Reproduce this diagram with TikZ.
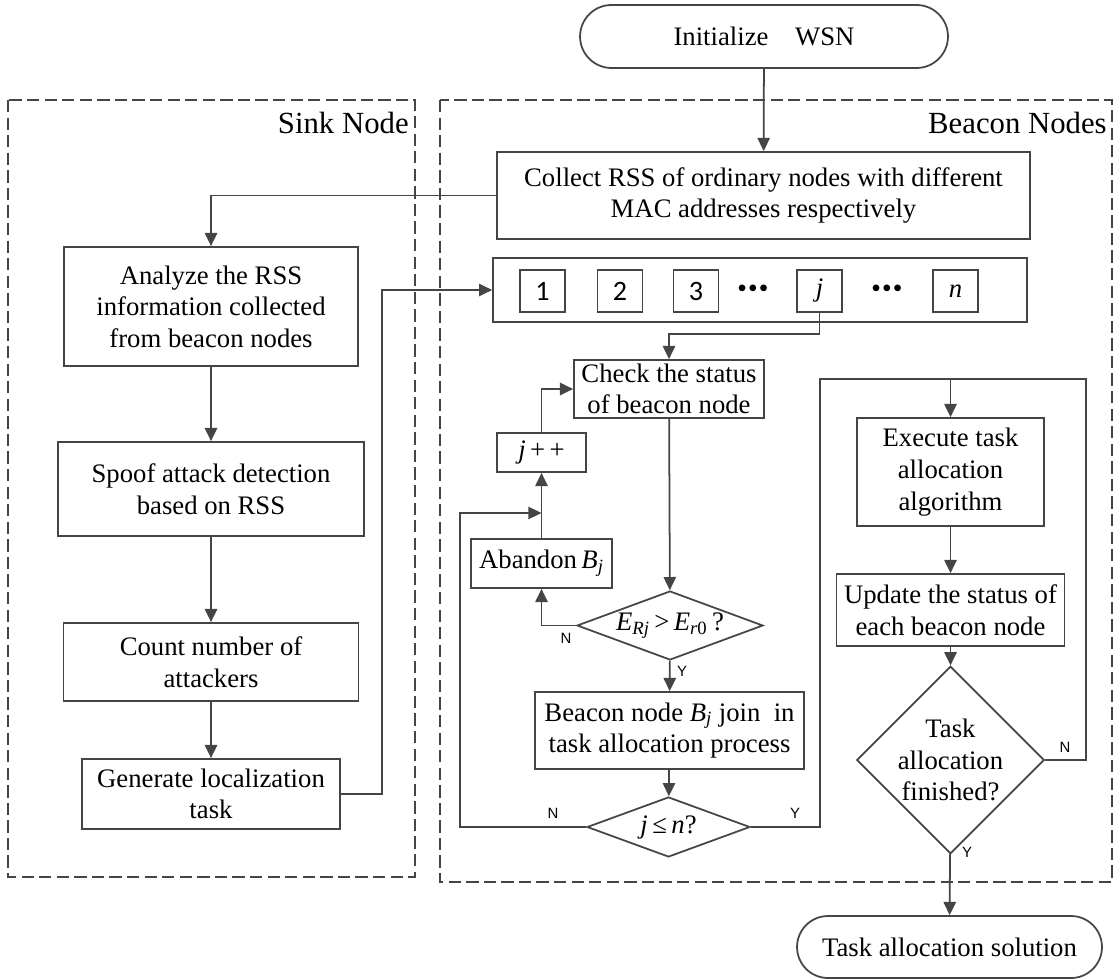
\documentclass[tikz,border=0pt]{standalone}
\usepackage{fontspec}
\setmainfont{Liberation Serif}
\newfontfamily\ynfont{Liberation Sans}
\newfontfamily\digitfont{Carlito}
\usetikzlibrary{shapes.geometric, shapes.misc, arrows.meta}

\definecolor{linec}{HTML}{454545}
\newcommand{\mainsize}{\fontsize{15.2pt}{18pt}\selectfont}

\tikzset{
  line/.style={draw=linec, line width=1pt},
  arr/.style={line, -{Triangle[length=7.5pt,width=7pt]}},
  zone/.style={draw=linec, line width=0.9pt, dash pattern=on 7pt off 3pt},
  title/.style={font=\fontsize{17.5pt}{20pt}\selectfont, inner sep=0pt},
  box/.style={draw=linec, line width=1pt, align=center, inner sep=0pt, font=\mainsize},
  term/.style={box, rounded rectangle},
  cond/.style={box, diamond, aspect=2.7},
  cell/.style={draw=linec, line width=1pt, inner sep=0pt, minimum width=0.9cm, minimum height=0.84cm},
  dotsbox/.style={inner sep=0pt, font=\ynfont\fontsize{14pt}{14pt}\selectfont},
  yn/.style={font=\ynfont\fontsize{8.5pt}{9pt}\selectfont, inner sep=0pt}
}

\begin{document}
\begin{tikzpicture}[x=0.02cm, y=-0.02cm]
    \useasboundingbox (0,0) rectangle (1114,979);

    % 虚线框
    \draw[zone] (8,100) rectangle (415,877);
    \draw[zone] (440,100) rectangle (1112,882);
    \node[title, anchor=east] (sinklbl) at (409,123) {Sink Node};
    \node[title, anchor=east] (beaconlbl) at (1107,123) {Beacon Nodes};

    % 开始和结束
    \node[term, minimum width=7.36cm, minimum height=1.26cm] (init) at (764,36.5) {Initialize\quad WSN};
    \node[term, minimum width=6.1cm, minimum height=1.24cm] (final) at (949.5,947) {Task allocation solution};

    % Sink Node
    \node[box, minimum width=5.88cm, minimum height=2.38cm] (analyze) at (211,306.5) {Analyze the RSS\\information collected\\from beacon nodes};
    \node[box, minimum width=6.12cm, minimum height=1.88cm] (spoof) at (211,489) {Spoof attack detection\\based on RSS};
    \node[box, minimum width=5.9cm, minimum height=1.56cm] (count) at (211,662) {Count number of\\attackers};
    \node[box, minimum width=5.16cm, minimum height=1.4cm] (generate) at (211,794) {Generate localization\\task};

    % Beacon Nodes
    \node[box, minimum width=10.66cm, minimum height=1.74cm] (collect) at (763.5,195.5) {Collect RSS of ordinary nodes with different\\MAC addresses respectively};
    \node[box, minimum width=10.68cm, minimum height=1.28cm] (nums) at (760,290) {};
    \node[cell, font=\digitfont\fontsize{16pt}{16pt}\selectfont] (b1) at (542.5,291) {1};
    \node[cell, font=\digitfont\fontsize{16pt}{16pt}\selectfont] (b2) at (620,291) {2};
    \node[cell, font=\digitfont\fontsize{16pt}{16pt}\selectfont] (b3) at (696,291) {3};
    \node[dotsbox] (dots1) at (753,291) {•\kern1.2pt•\kern1.2pt•};
    \node[cell, font=\mainsize] (bj) at (819.5,291) {\textit{j}};
    \node[dotsbox] (dots2) at (887,291) {•\kern1.2pt•\kern1.2pt•};
    \node[cell, font=\mainsize] (bn) at (955.5,291) {\textit{n}};

    \node[box, minimum width=3.8cm, minimum height=1.16cm] (check) at (669,389) {Check the status\\of beacon node};
    \node[box, minimum width=1.78cm, minimum height=0.78cm] (jpp) at (541.5,452.5) {\textit{j}\,+\,+};
    \node[box, minimum width=2.82cm, minimum height=0.98cm] (abandon) at (541.5,563.5) {Abandon\,\textit{B}\textsubscript{\textit{j}}};
    \node[cond, minimum width=3.72cm, minimum height=1.38cm] (cmpE) at (670,625.5) {\textit{E}\textsubscript{\textit{Rj}}\,>\,\textit{E}\textsubscript{\textit{r}0}\,?};
    \node[box, minimum width=5.38cm, minimum height=1.54cm] (join) at (669.5,730.5) {Beacon node \textit{B}\textsubscript{\textit{j}} join\ \ in\\task allocation process};
    \node[cond, minimum width=3.26cm, minimum height=1.2cm] (cmpj) at (668.5,827) {\textit{j}\,≤\,\textit{n}?};

    \node[box, minimum width=3.74cm, minimum height=2.16cm] (execute) at (950.5,472) {Execute task\\allocation\\algorithm};
    \node[box, minimum width=4.56cm, minimum height=1.44cm] (update) at (950.5,610) {Update the status of\\each beacon node};
    \node[box, diamond, aspect=1, minimum width=3.26cm, minimum height=3.28cm] (finish) at (950.5,760) {Task\\allocation\\finished?};

    % 拐点
    \coordinate (gturn) at (382,794);
    \coordinate (jturn) at (819.5,334);
    \coordinate (jmerge) at (541.5,513);
    \coordinate (nturn) at (460,827);
    \coordinate (yturn) at (820,379);
    \coordinate (loopin) at (950.5,379);
    \coordinate (fturn) at (1086,379);

    % 连线
    \draw[arr] (init) -- (collect);
    \draw[arr] (collect.west) -| (analyze.north);
    \draw[arr] (analyze) -- (spoof);
    \draw[arr] (spoof) -- (count);
    \draw[arr] (count) -- (generate);
    \draw[arr] (generate.east) -- (gturn) |- (nums.west);

    \draw[arr] (bj.south) -- (jturn) -| (check.north);
    \draw[arr] (check) -- (cmpE);
    \draw[arr] (cmpE.west) -| (abandon.south);
    \draw[arr] (abandon) -- (jpp);
    \draw[arr] (jpp.north) |- (check.west);
    \draw[arr] (cmpE) -- (join);
    \draw[arr] (join) -- (cmpj);
    \draw[arr] (cmpj.west) -- (nturn) |- (jmerge);

    \draw[line] (cmpj.east) -| (yturn) -- (loopin);
    \draw[arr] (loopin) -- (execute);
    \draw[arr] (execute) -- (update);
    \draw[arr] (update) -- (finish);
    \draw[line] (finish.east) -| (fturn) -- (loopin);
    \draw[arr] (finish) -- (final);

    % 标签
    \node[yn] (nE) at (566,638) {N};
    \node[yn] (yE) at (682,671) {Y};
    \node[yn] (nj) at (553,813) {N};
    \node[yn] (yj) at (795,813) {Y};
    \node[yn] (nf) at (1065,747) {N};
    \node[yn] (yf) at (967,852) {Y};
\end{tikzpicture}
\end{document}
